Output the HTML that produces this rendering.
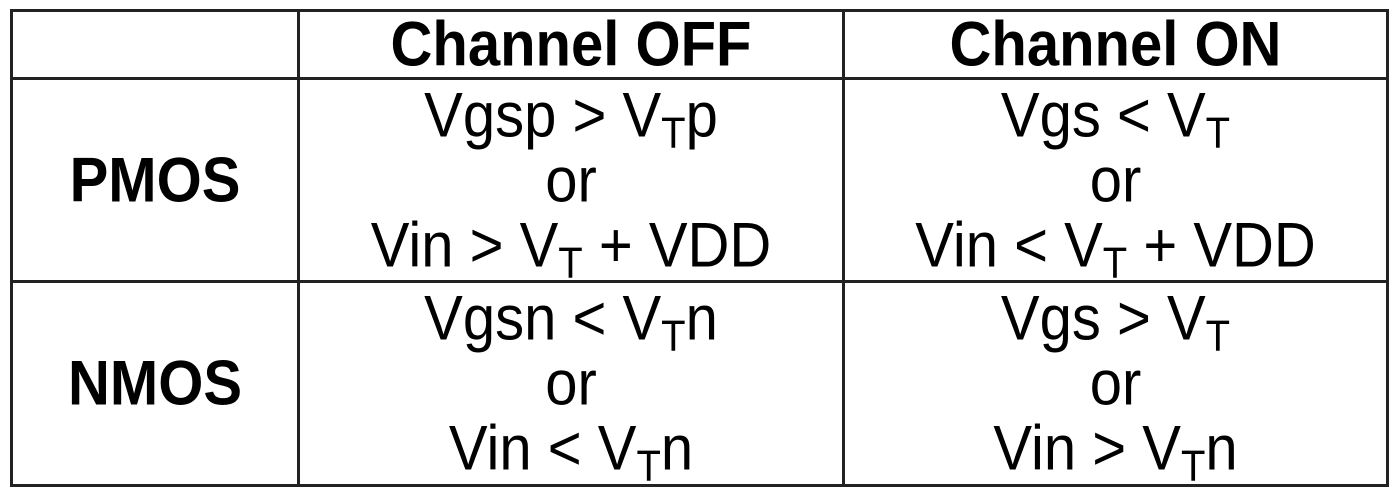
<!DOCTYPE html>
<html><head><style>
body{margin:0;width:1400px;height:494px;background:#fff;position:relative;font-family:"Liberation Sans",Arial,sans-serif;color:#000;overflow:hidden}
.l{position:absolute;background:#222}
.c{position:absolute;text-align:center;display:flex;flex-direction:column;justify-content:center;align-items:center;font-size:58px;line-height:65px}
.c div{transform:scaleY(1.08)}
.b{font-weight:bold}
sub{font-size:40px;vertical-align:-10px;line-height:0}
</style></head><body>
<div class="l" style="left:10px;top:9px;width:1379px;height:3px"></div>
<div class="l" style="left:10px;top:77px;width:1379px;height:3px"></div>
<div class="l" style="left:10px;top:280px;width:1379px;height:3px"></div>
<div class="l" style="left:10px;top:484px;width:1379px;height:3px"></div>
<div class="l" style="left:10px;top:9px;width:3px;height:478px"></div>
<div class="l" style="left:297px;top:9px;width:3px;height:478px"></div>
<div class="l" style="left:842px;top:9px;width:3px;height:478px"></div>
<div class="l" style="left:1386px;top:9px;width:3px;height:478px"></div>

<div class="c b" style="left:300px;top:12px;width:542px;height:65px"><div>Channel OFF</div></div>
<div class="c b" style="left:845px;top:12px;width:541px;height:65px"><div>Channel ON</div></div>
<div class="c b" style="left:13px;top:80px;width:284px;height:200px"><div>PMOS</div></div>
<div class="c b" style="left:13px;top:283px;width:284px;height:201px"><div>NMOS</div></div>

<div class="c" style="left:300px;top:80px;width:542px;height:200px"><div>Vgsp &gt; V<sub>T</sub>p</div><div>or</div><div>Vin &gt; V<sub>T</sub> + VDD</div></div>
<div class="c" style="left:845px;top:80px;width:541px;height:200px"><div>Vgs &lt; V<sub>T</sub></div><div>or</div><div>Vin &lt; V<sub>T</sub> + VDD</div></div>
<div class="c" style="left:300px;top:283px;width:542px;height:201px"><div>Vgsn &lt; V<sub>T</sub>n</div><div>or</div><div>Vin &lt; V<sub>T</sub>n</div></div>
<div class="c" style="left:845px;top:283px;width:541px;height:201px"><div>Vgs &gt; V<sub>T</sub></div><div>or</div><div>Vin &gt; V<sub>T</sub>n</div></div>
</body></html>
